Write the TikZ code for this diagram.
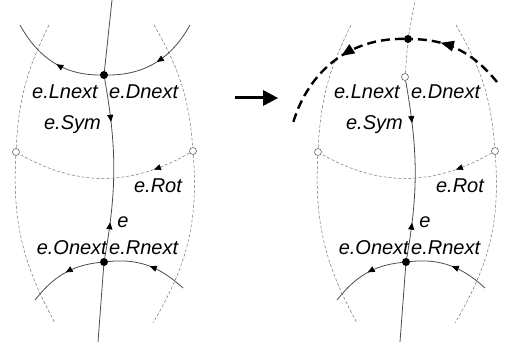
\documentclass[tikz,border=0pt]{standalone}
\usepackage{fontspec}
\setmainfont{Liberation Sans}
\usetikzlibrary{arrows.meta,decorations.markings}

\tikzset{
  primal/.style={draw=black!70, line width=0.8pt},
  dual/.style={draw=black!55, line width=0.5pt, dash pattern=on 3pt off 2pt},
  flip/.style={draw=black, line width=2.4pt, dash pattern=on 9pt off 5pt},
  vert/.style={circle, fill=black, inner sep=0pt, minimum size=8pt},
  dvert/.style={circle, draw=black!60, fill=white, line width=0.6pt,
    inner sep=0pt, minimum size=7pt},
  lbl/.style={font=\fontsize{20}{20}\selectfont\itshape, inner sep=0pt},
  fwd/.style={postaction={decorate, decoration={markings,
    mark=at position #1 with {\arrow[black]{Triangle[length=7pt,width=6pt]}}}}},
  bwd/.style={postaction={decorate, decoration={markings,
    mark=at position #1 with {\arrowreversed[black]{Triangle[length=7pt,width=6pt]}}}}},
  bigfwd/.style={postaction={decorate, decoration={markings,
    mark=at position #1 with {\arrow[black]{Triangle[length=13pt,width=11pt,line width=0pt]}}}}}
}

\begin{document}
\begin{tikzpicture}[x=1pt, y=1pt]
  \useasboundingbox (0,0) rectangle (507,349);

  % origin vertices of e (filled before, open after)
  \node[vert] (topl) at (104,274) {};
  \node[dvert] (topr) at (405,272) {};

  \foreach \s/\dx in {l/0, r/302} {
    \begin{scope}[xshift=\dx]
      \node[vert] (bot\s) at (104,87) {};
      \node[dvert] (dl\s) at (16,197) {};
      \node[dvert] (dr\s) at (193,198) {};
      \coordinate (foot\s) at (98,7);
      \coordinate (ca\s) at (183,61);
      \coordinate (cb\s) at (35,49);
      \coordinate (la\s) at (49,324);
      \coordinate (lb\s) at (55,26);
      \coordinate (ra\s) at (154,324);
      \coordinate (rb\s) at (153,26);

      % dual edges
      \draw[dual] (la\s) to[out=243.7,in=87.1] (dl\s)
        to[out=267.1,in=118.6] (lb\s);
      \draw[dual] (ra\s) to[out=300,in=94.3] (dr\s)
        to[out=274.3,in=59.5] (rb\s);
      \draw[dual, fwd=0.22] (dr\s) to[out=210,in=-30] (dl\s);

      % primal edges
      \draw[primal] (bot\s) -- (foot\s);
      \draw[primal, fwd=0.25, fwd=0.74] (ca\s) to[out=137.6,in=6] (bot\s)
        to[out=186,in=51.6] (cb\s);
      \draw[primal, fwd=0.2, bwd=0.76] (bot\s) to[out=80,in=-80] (top\s);

      \node[lbl, anchor=east] (lnext\s) at (98,257) {e.Lnext};
      \node[lbl, anchor=west] (dnext\s) at (109,257) {e.Dnext};
      \node[lbl, anchor=east] (sym\s) at (101,224) {e.Sym};
      \node[lbl] (rot\s) at (158,163) {e.Rot};
      \node[lbl] (e\s) at (123,127) {e};
      \node[lbl, anchor=east] (onext\s) at (107,101) {e.Onext};
      \node[lbl, anchor=west] (rnext\s) at (109,101) {e.Rnext};
    \end{scope}
  }

  % before
  \coordinate (aa) at (190,324);
  \coordinate (ab) at (20,324);
  \coordinate (headl) at (112,349);
  \draw[primal] (topl) -- (headl);
  \draw[primal, fwd=0.25, fwd=0.73] (aa) to[out=241,in=0] (topl)
    to[out=180,in=-61] (ab);

  % after
  \node[vert] (newr) at (408,310) {};
  \coordinate (na) at (497,267);
  \coordinate (nb) at (293,226);
  \coordinate (headr) at (415,349);
  \draw[dual] (topr) -- (newr) -- (headr);
  \draw[flip, bigfwd=0.28, bigfwd=0.66] (na) to[out=129.5,in=-1] (newr)
    to[out=179,in=73.3] (nb);

  \coordinate (arra) at (235,251);
  \coordinate (arrb) at (278,251);
  \draw[line width=3pt, -{Triangle[length=15pt,width=16pt,line width=0pt]}]
    (arra) -- (arrb);
\end{tikzpicture}
\end{document}
